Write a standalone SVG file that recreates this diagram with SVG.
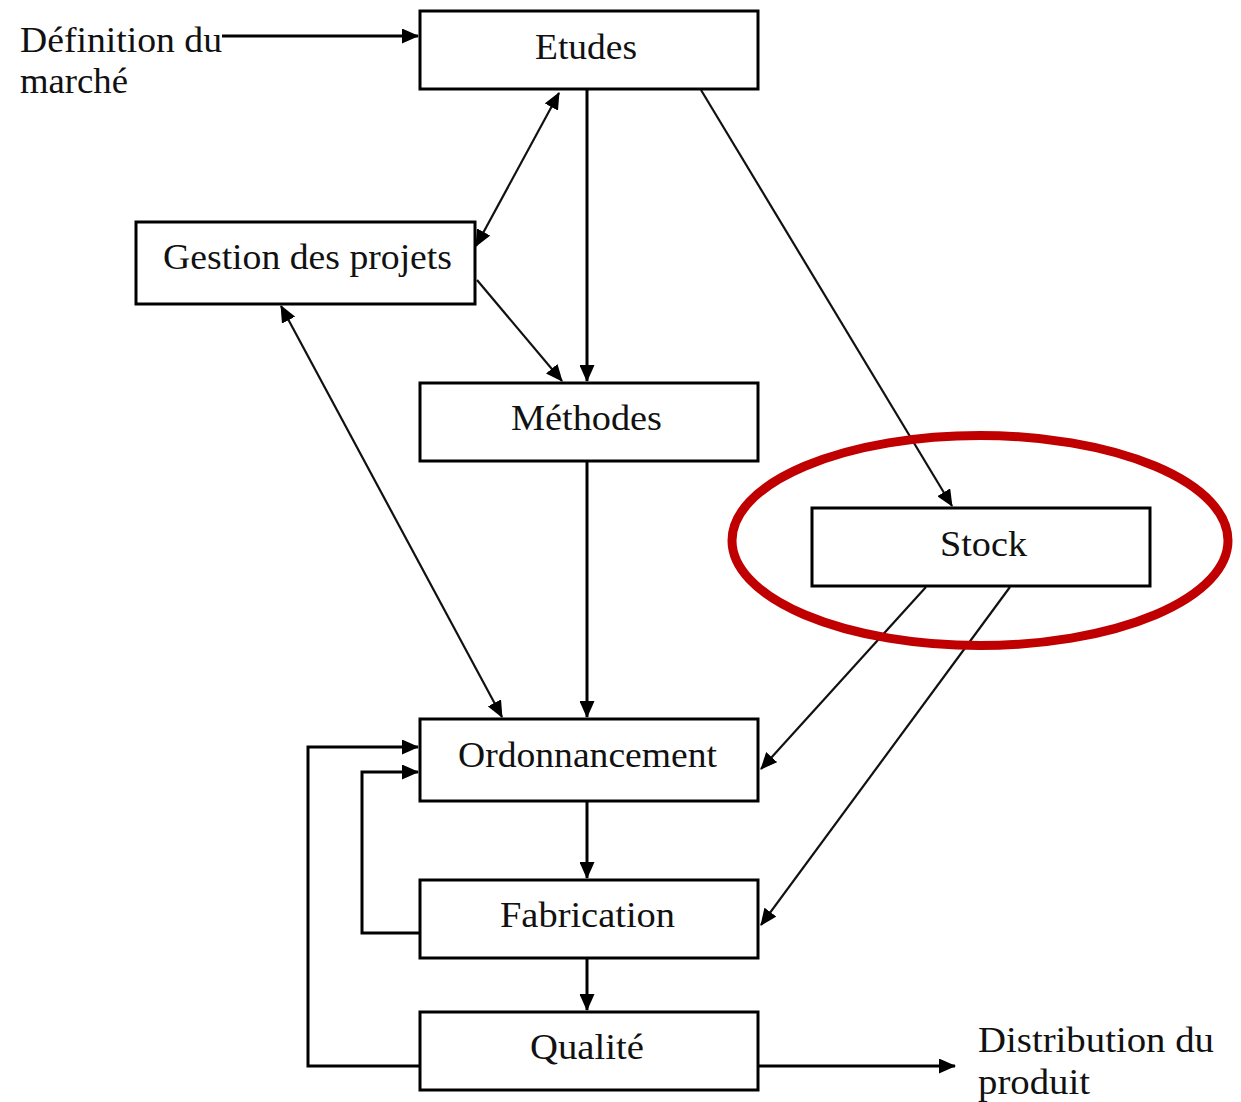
<svg xmlns="http://www.w3.org/2000/svg" width="1241" height="1102" viewBox="0 0 1241 1102">
<defs>
<style>
.box{fill:#fff;stroke:#000;stroke-width:3}
.t{font-size:35px;fill:#111}
.c{fill:none;stroke:#000;stroke-width:3}
.d{fill:none;stroke:#111;stroke-width:2.2}
</style>
<marker id="ah" markerUnits="userSpaceOnUse" markerWidth="17" markerHeight="15" refX="16" refY="7.5" orient="auto-start-reverse" viewBox="0 0 17 15">
<path d="M0,0 L17,7.5 L0,15 z" fill="#000"/>
</marker>
</defs>
<rect width="1241" height="1102" fill="#fff"/>
<g id="connectors">
<line class="c" x1="222" y1="36" x2="418" y2="36" marker-end="url(#ah)"/>
<line class="c" x1="587" y1="89" x2="587" y2="381" marker-end="url(#ah)"/>
<line class="d" x1="559" y1="93" x2="476" y2="246" marker-start="url(#ah)" marker-end="url(#ah)"/>
<line class="d" x1="477" y1="280" x2="562" y2="381" marker-end="url(#ah)"/>
<line class="d" x1="701" y1="90" x2="952" y2="506" marker-end="url(#ah)"/>
<line class="d" x1="281" y1="306" x2="502" y2="717" marker-start="url(#ah)" marker-end="url(#ah)"/>
<line class="c" x1="587" y1="461" x2="587" y2="717" marker-end="url(#ah)"/>
<line class="d" x1="926" y1="587" x2="761" y2="769" marker-end="url(#ah)"/>
<line class="d" x1="1010" y1="587" x2="761" y2="925" marker-end="url(#ah)"/>
<line class="c" x1="587" y1="801" x2="587" y2="878" marker-end="url(#ah)"/>
<line class="c" x1="587" y1="958" x2="587" y2="1010" marker-end="url(#ah)"/>
<polyline class="c" points="420,1066 308,1066 308,747 418,747" marker-end="url(#ah)"/>
<polyline class="c" points="420,933 362,933 362,772 418,772" marker-end="url(#ah)"/>
<line class="c" x1="758" y1="1066" x2="955" y2="1066" marker-end="url(#ah)"/>
</g>
<g font-family="Liberation Serif, DejaVu Serif, Times New Roman, serif">
<g id="etudes"><rect class="box" x="420" y="11" width="338" height="78"/><text class="t" x="535" y="59" textLength="102" lengthAdjust="spacingAndGlyphs">Etudes</text></g>
<g id="gestion"><rect class="box" x="136" y="222" width="339" height="82"/><text class="t" x="163" y="269" textLength="289" lengthAdjust="spacingAndGlyphs">Gestion des projets</text></g>
<g id="methodes"><rect class="box" x="420" y="383" width="338" height="78"/><text class="t" x="511" y="430" textLength="151" lengthAdjust="spacingAndGlyphs">Méthodes</text></g>
<g id="stock"><rect class="box" x="812" y="508" width="338" height="78"/><text class="t" x="940" y="556" textLength="87" lengthAdjust="spacingAndGlyphs">Stock</text></g>
<g id="ordonnancement"><rect class="box" x="420" y="719" width="338" height="82"/><text class="t" x="458" y="767" textLength="259" lengthAdjust="spacingAndGlyphs">Ordonnancement</text></g>
<g id="fabrication"><rect class="box" x="420" y="880" width="338" height="78"/><text class="t" x="500" y="927" textLength="175" lengthAdjust="spacingAndGlyphs">Fabrication</text></g>
<g id="qualite"><rect class="box" x="420" y="1012" width="338" height="78"/><text class="t" x="530" y="1059" textLength="114" lengthAdjust="spacingAndGlyphs">Qualité</text></g>
<g id="definition"><text class="t" x="20" y="52" textLength="202" lengthAdjust="spacingAndGlyphs">Définition du</text><text class="t" x="20" y="93" textLength="108" lengthAdjust="spacingAndGlyphs">marché</text></g>
<g id="distribution"><text class="t" x="978" y="1052" textLength="236" lengthAdjust="spacingAndGlyphs">Distribution du</text><text class="t" x="978" y="1094" textLength="112" lengthAdjust="spacingAndGlyphs">produit</text></g>
</g>
<g id="highlight"><ellipse cx="980" cy="540.5" rx="248" ry="105" fill="none" stroke="#c00000" stroke-width="9"/></g>
</svg>
